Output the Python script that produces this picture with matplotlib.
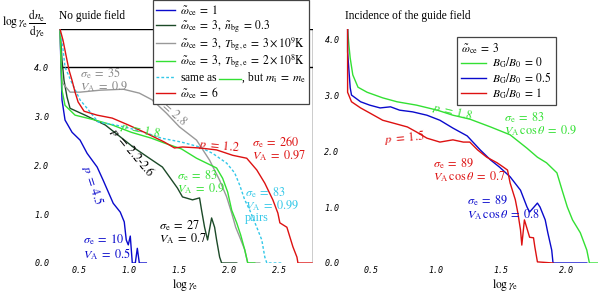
import matplotlib
matplotlib.use("Agg")
import matplotlib.pyplot as plt
from matplotlib.lines import Line2D

plt.rcParams['font.family'] = ['Liberation Serif', 'DejaVu Serif']
plt.rcParams['mathtext.fontset'] = 'stix'

# ---- left panel: no guide field (log gamma, log gamma dn/dgamma)
wc1_x = [0.31, 0.318, 0.33, 0.36, 0.43, 0.51, 0.58, 0.68, 0.74, 0.84, 0.91, 0.95, 0.97, 0.99, 1.01, 1.03, 1.06, 1.08, 1.10, 1.17]
wc1_y = [4.78, 4.14, 3.33, 2.92, 2.67, 2.51, 2.24, 1.96, 1.69, 1.22, 1.04, 0.84, 0.47, 0.37, 0.55, 0.0, 0.0, 0.30, 0.0, 0.0]

nbg_x = [0.31, 0.33, 0.35, 0.38, 0.41, 0.56, 0.76, 0.89, 1.05, 1.20, 1.33, 1.40, 1.48, 1.53, 1.63, 1.70, 1.72, 1.75, 1.78, 1.82, 1.85, 1.87, 1.90, 1.92, 2.07]
nbg_y = [4.78, 4.14, 3.73, 3.39, 3.16, 3.02, 2.82, 2.61, 2.35, 2.14, 1.96, 1.76, 1.53, 1.35, 1.29, 1.33, 1.08, 0.73, 0.47, 0.92, 0.73, 0.47, 0.12, 0.0, 0.0]

t9_x = [0.31, 0.32, 0.33, 0.41, 0.51, 0.71, 0.94, 1.10, 1.23, 1.37, 1.50, 1.67, 1.80, 1.90, 1.97, 2.02, 2.06, 2.10, 2.15, 2.18, 2.30]
t9_y = [4.78, 4.14, 3.69, 3.49, 3.49, 3.53, 3.55, 3.47, 3.33, 3.06, 2.78, 2.51, 2.10, 1.69, 1.35, 1.02, 0.73, 0.53, 0.27, 0.0, 0.0]

t8_x = [0.31, 0.32, 0.33, 0.36, 0.46, 0.66, 0.83, 1.02, 1.22, 1.35, 1.52, 1.67, 1.77, 1.87, 1.93, 1.98, 2.02, 2.07, 2.11, 2.15, 2.18, 2.25]
t8_y = [4.78, 4.14, 3.53, 3.22, 3.02, 2.92, 2.82, 2.67, 2.55, 2.45, 2.33, 2.14, 2.04, 1.94, 1.73, 1.45, 1.08, 0.82, 0.57, 0.27, 0.0, 0.0]

pair_x = [0.31, 0.33, 0.36, 0.43, 0.51, 0.58, 0.69, 0.86, 0.99, 1.15, 1.32, 1.52, 1.70, 1.83, 1.97, 2.05, 2.10, 2.15, 2.20, 2.27, 2.32, 2.35, 2.37, 2.53]
pair_y = [4.78, 4.55, 4.00, 3.67, 3.33, 3.16, 2.88, 2.82, 2.76, 2.67, 2.55, 2.47, 2.37, 2.24, 2.04, 1.84, 1.59, 1.29, 1.08, 0.73, 0.47, 0.12, 0.0, 0.0]

wc6_x = [0.31, 0.34, 0.37, 0.40, 0.43, 0.46, 0.49, 0.55, 0.68, 0.83, 0.99, 1.15, 1.35, 1.45, 1.53, 1.70, 1.87, 2.03, 2.17, 2.27, 2.35, 2.43, 2.48, 2.50, 2.57, 2.63, 2.67, 2.68, 2.82]
wc6_y = [4.78, 4.55, 4.24, 3.94, 3.73, 3.49, 3.29, 3.10, 3.02, 2.96, 2.82, 2.67, 2.47, 2.35, 2.37, 2.35, 2.31, 2.20, 2.14, 1.90, 1.63, 1.29, 1.02, 0.82, 0.73, 0.33, 0.12, 0.0, 0.0]

# ---- right panel: guide field
bg0_x = [0.32, 0.33, 0.34, 0.36, 0.40, 0.47, 0.59, 0.70, 0.85, 1.01, 1.13, 1.26, 1.42, 1.57, 1.70, 1.78, 1.85, 1.93, 1.97, 2.01, 2.05, 2.11, 2.16, 2.18, 2.25]
bg0_y = [4.18, 3.89, 3.66, 3.36, 3.14, 3.05, 2.95, 2.88, 2.82, 2.73, 2.64, 2.57, 2.43, 2.29, 2.05, 1.89, 1.79, 1.61, 1.30, 1.00, 0.77, 0.54, 0.23, 0.0, 0.0]

bg05_x = [0.32, 0.32, 0.34, 0.35, 0.42, 0.49, 0.57, 0.65, 0.72, 0.82, 0.93, 1.03, 1.13, 1.24, 1.34, 1.42, 1.49, 1.57, 1.65, 1.70, 1.72, 1.78, 1.80, 1.84, 1.86, 1.89, 1.90, 2.16]
bg05_y = [4.18, 3.77, 3.13, 3.00, 2.88, 2.82, 2.77, 2.79, 2.73, 2.70, 2.64, 2.55, 2.41, 2.27, 2.02, 1.84, 1.71, 1.54, 1.30, 1.00, 0.91, 1.07, 1.00, 0.77, 0.54, 0.23, 0.0, 0.0]

bg1_x = [0.32, 0.32, 0.32, 0.35, 0.42, 0.49, 0.59, 0.67, 0.78, 0.85, 0.93, 1.03, 1.13, 1.21, 1.26, 1.32, 1.39, 1.47, 1.52, 1.55, 1.57, 1.61, 1.63, 1.65, 1.66, 1.68, 1.72, 1.75, 1.76, 1.78, 1.90]
bg1_y = [4.18, 3.66, 3.05, 2.88, 2.77, 2.68, 2.55, 2.50, 2.43, 2.34, 2.23, 2.16, 2.20, 2.16, 2.16, 2.02, 1.89, 1.79, 1.71, 1.66, 1.43, 1.13, 0.89, 0.59, 0.32, 0.77, 0.46, 0.45, 0.29, 0.02, 0.0]

c_blue = '#0a0acc'
c_dgreen = '#1c4a28'
c_gray = '#999999'
c_green = '#33e033'
c_cyan = '#33c8e8'
c_red = '#dd1111'

W, H = 600, 294
fig = plt.figure(figsize=(6.0, 2.94), dpi=100)

def px_axes(x0, x1, ytop, ybot):
    return fig.add_axes([x0 / W, (H - ybot) / H, (x1 - x0) / W, (ybot - ytop) / H])

tick_kw = dict(fontfamily='DejaVu Sans Mono', fontstyle='italic', fontsize=6)
fs = 8.3   # titles and legends
fa = 8.8   # annotations
EQ = r'\;=\;'

def sig(v):
    return r'$\sigma_{\rm e}' + EQ + v + '$'

def va_(v, cos=False):
    return r'$V_{\rm A}' + (r'\,\cos\theta' if cos else '') + EQ + v + '$'

def note(a, x, y, s, c, **kw):
    a.text(x, y, s, color=c, fontsize=fa, va='center', linespacing=0.9, **kw)

# ---------------- left
ax = px_axes(59, 313, 29, 263)
ax.set_xlim(0.3, 2.83)
ax.set_ylim(0, 4.78)
for s in ax.spines.values():
    s.set_visible(False)
ax.hlines([4.78, 4.0], 0.31, 2.83, color='black', lw=1.0, zorder=1)
ax.vlines(2.83, 0, 4.78, color='black', lw=1.0, zorder=1)

ax.plot(wc1_x, wc1_y, color=c_blue, lw=1.0, label=r'$\tilde{\omega}_{\rm ce}' + EQ + r'1$')
ax.plot(nbg_x, nbg_y, color=c_dgreen, lw=1.0, label=r'$\tilde{\omega}_{\rm ce}' + EQ + r'3,\ \tilde{n}_{\rm bg}' + EQ + r'0.3$')
ax.plot(t9_x, t9_y, color=c_gray, lw=1.0, label=r'$\tilde{\omega}_{\rm ce}' + EQ + r'3,\ T_{\rm bg,e}' + EQ + r'3 \times 10^9{\rm K}$')
ax.plot(t8_x, t8_y, color=c_green, lw=1.0, label=r'$\tilde{\omega}_{\rm ce}' + EQ + r'3,\ T_{\rm bg,e}' + EQ + r'2 \times 10^8{\rm K}$')
ax.plot(pair_x, pair_y, color=c_cyan, lw=1.0, ls=(0, (2, 1.5)), label=r'same as         , but $m_{\rm i}' + EQ + r'm_{\rm e}$')
ax.plot(wc6_x, wc6_y, color=c_red, lw=1.0, label=r'$\tilde{\omega}_{\rm ce}' + EQ + r'6$')

ax.set_xticks([0.5, 1.0, 1.5, 2.0, 2.5], ['0.5', '1.0', '1.5', '2.0', '2.5'], **tick_kw)
ax.set_yticks([0, 1, 2, 3, 4], ['0.0', '1.0', '2.0', '3.0', '4.0'], **tick_kw)
ax.tick_params(length=0)
ax.tick_params(axis='y', pad=7)
ax.tick_params(axis='x', pad=2)

ax.text(0.3, 5.04, 'No guide field', fontsize=fs, ha='left', va='center')
ax.text(1.56, -0.45, r'$\log\gamma_{\rm e}$', fontsize=fs, ha='center', va='center')

note(ax, 0.51, 3.74, sig('35') + '\n' + va_('0.9'), '#888888')
note(ax, 1.41, 3.12, r'$p' + EQ + r'2.8$', '#888888', rotation=-42, ha='center')
note(ax, 1.11, 2.72, r'$p' + EQ + r'1.8$', c_green, rotation=-12, ha='center')
note(ax, 1.03, 2.26, r'$p' + EQ + r'2.2$-$2.6$', 'black', rotation=-50, ha='center')
note(ax, 0.64, 1.59, r'$p' + EQ + r'4.5$', c_blue, rotation=-72, ha='center')
note(ax, 0.54, 0.32, sig('10') + '\n' + va_('0.5'), c_blue)
note(ax, 1.30, 0.63, sig('27') + '\n' + va_('0.7'), 'black')
note(ax, 1.48, 1.65, sig('83') + '\n' + va_('0.9'), c_green)
note(ax, 2.15, 1.19, sig('83') + '\n' + va_('0.99') + '\npairs', c_cyan)
note(ax, 1.90, 2.40, r'$p' + EQ + r'1.2$', c_red, rotation=-6, ha='center')
note(ax, 2.22, 2.33, sig('260') + '\n' + va_('0.97'), c_red)

leg1 = ax.legend(loc='upper left', bbox_to_anchor=(153 / W, 1.0), bbox_transform=fig.transFigure,
                 fontsize=fs, frameon=True, fancybox=False, borderaxespad=0, handlelength=1.6,
                 handletextpad=0.45, labelspacing=0.02, borderpad=0.3, framealpha=1)
leg1.get_frame().set_edgecolor('#444444')
leg1.get_frame().set_linewidth(0.9)
leg1.set_zorder(10)

fig.text(2 / W, (H - 24) / H, r'$\log\gamma_{\rm e}\,\dfrac{{\rm d}n_{\rm e}}{{\rm d}\gamma_{\rm e}}$',
         fontsize=fs, ha='left', va='center')

# ---------------- right
ax2 = px_axes(345, 598, 29, 263)
ax2.set_xlim(0.3, 2.246)
ax2.set_ylim(0, 4.18)
for s in ax2.spines.values():
    s.set_visible(False)
ax2.plot(bg0_x, bg0_y, color=c_green, lw=1.0, label=r'$B_{\rm G}/B_0' + EQ + r'0$')
ax2.plot(bg05_x, bg05_y, color=c_blue, lw=1.0, label=r'$B_{\rm G}/B_0' + EQ + r'0.5$')
ax2.plot(bg1_x, bg1_y, color=c_red, lw=1.0, label=r'$B_{\rm G}/B_0' + EQ + r'1$')
ax2.set_xticks([0.5, 1.0, 1.5, 2.0], ['0.5', '1.0', '1.5', '2.0'], **tick_kw)
ax2.set_yticks([0, 1, 2, 3, 4], ['0.0', '1.0', '2.0', '3.0', '4.0'], **tick_kw)
ax2.tick_params(length=0)
ax2.tick_params(axis='y', pad=4)
ax2.tick_params(axis='x', pad=2)

ax2.text(0.3, 4.41, 'Incidence of the guide field', fontsize=fs, ha='left', va='center')
ax2.text(1.53, -0.39, r'$\log\gamma_{\rm e}$', fontsize=fs, ha='center', va='center')
note(ax2, 1.13, 2.70, r'$p' + EQ + r'1.8$', c_green, rotation=-14, ha='center')
note(ax2, 0.76, 2.25, r'$p' + EQ + r'1.5$', c_red, rotation=5, ha='center')
note(ax2, 1.52, 2.48, sig('83') + '\n' + va_('0.9', cos=True), c_green)
note(ax2, 0.98, 1.66, sig('89') + '\n' + va_('0.7', cos=True), c_red)
note(ax2, 1.24, 0.99, sig('89') + '\n' + va_('0.8', cos=True), c_blue)

leg2 = ax2.legend(loc='upper left', bbox_to_anchor=(457 / W, (H - 37) / H), bbox_transform=fig.transFigure,
                  title=r'$\tilde{\omega}_{\rm ce}' + EQ + r'3$', title_fontsize=fs, alignment='left',
                  fontsize=fs, frameon=True, fancybox=False, borderaxespad=0, handlelength=2.2,
                  handletextpad=0.5, labelspacing=0.02, borderpad=0.35, framealpha=1)
leg2.get_frame().set_edgecolor('#444444')
leg2.get_frame().set_linewidth(0.9)

# small green line inside the "same as ..." legend entry
fig.canvas.draw()
r = fig.canvas.get_renderer()
t5 = leg1.get_texts()[4]
bb = t5.get_window_extent(r)
tmp = fig.text(0, 0, 'same as ', fontsize=fs)
w_pre = tmp.get_window_extent(r).width
tmp.remove()
xa = bb.x0 + w_pre
yc = bb.y0 + bb.height * 0.45
p0 = fig.transFigure.inverted().transform((xa, yc))
p1 = fig.transFigure.inverted().transform((xa + 22, yc))
fig.add_artist(Line2D([p0[0], p1[0]], [p0[1], p1[1]], color=c_green, lw=1.0, zorder=20))

fig.savefig('out.png', dpi=100)
